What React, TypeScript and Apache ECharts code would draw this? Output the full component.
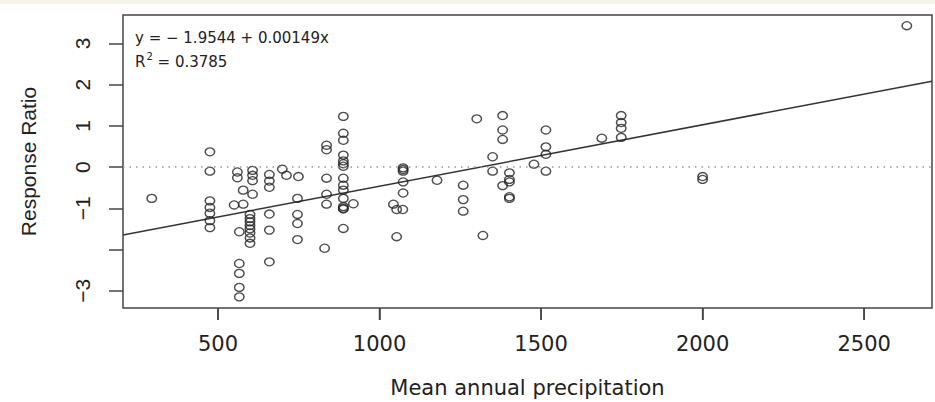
import React, { useEffect, useRef } from "react";
import * as echarts from "echarts";

// Scatter data: mean annual precipitation (x) and response ratio (y)
const precipitation: number[] = [
  295,
  475, 475, 475, 475, 475, 475, 475,
  550,
  560, 560,
  566, 566, 566, 566, 566,
  578, 578,
  607, 607, 607, 607,
  599, 599, 599, 599, 599, 599, 599, 599,
  659, 659, 659, 659, 659, 659,
  699, 712, 749,
  746, 746, 746, 746,
  830,
  836, 836, 836, 836, 836,
  888, 888, 888, 888, 888, 888, 888, 888, 888, 888, 888, 888, 888, 888, 888,
  919,
  1043,
  1053, 1053,
  1072,
  1073, 1073, 1073, 1073, 1073,
  1178,
  1259, 1259, 1259,
  1301,
  1320,
  1350, 1350,
  1381, 1381, 1381, 1381,
  1402, 1402, 1402, 1402, 1402,
  1478,
  1515, 1515, 1515, 1515,
  1688,
  1748, 1748, 1748, 1748,
  2000, 2000,
  2632,
];

const responseRatio: number[] = [
  -0.76,
  0.37, -0.1, -0.82, -0.98, -1.12, -1.3, -1.47,
  -0.92,
  -0.12, -0.26,
  -1.57, -2.34, -2.58, -2.92, -3.15,
  -0.56, -0.9,
  -0.08, -0.2, -0.33, -0.66,
  -1.15, -1.25, -1.33, -1.42, -1.5, -1.6, -1.72, -1.85,
  -0.18, -0.34, -0.49, -1.14, -1.53, -2.3,
  -0.05, -0.2, -0.23,
  -0.76, -1.15, -1.37, -1.76,
  -1.97,
  0.53, 0.42, -0.27, -0.66, -0.9,
  1.23, 0.82, 0.65, 0.29, 0.15, 0.08, 0.02, -0.27, -0.44, -0.56, -0.76, -0.96, -1.0, -1.02, -1.49,
  -0.89,
  -0.9,
  -1.03, -1.69,
  -1.03,
  -0.02, -0.06, -0.1, -0.36, -0.63,
  -0.32,
  -0.44, -0.79, -1.07,
  1.17,
  -1.66,
  0.25, -0.1,
  1.25, 0.9, 0.67, -0.45,
  -0.14, -0.3, -0.36, -0.72, -0.76,
  0.07,
  0.9, 0.49, 0.31, -0.1,
  0.7,
  1.25, 1.08, 0.94, 0.72,
  -0.23, -0.3,
  3.43,
];

// Fitted regression: y = intercept + slope * x
const intercept = -1.9544;
const slope = 0.00149;
const rSquared = 0.3785;

const xTicks: number[] = [500, 1000, 1500, 2000, 2500];
const yTicks: number[] = [-3, -2, -1, 0, 1, 2, 3];
const yTickLabels: number[] = [-3, -1, 0, 1, 2, 3];

const xRange: number[] = [206, 2710];
const yRange: number[] = [-3.42, 3.69];

const fmtNum = (v: number) => (v < 0 ? "\u2212" + Math.abs(v) : String(v));

export default function App() {
  const ref = useRef<HTMLDivElement>(null);

  useEffect(() => {
    if (!ref.current) return;
    const chart = echarts.init(ref.current, undefined, { renderer: "svg" });
    const points = precipitation.map((x, i) => [x, responseRatio[i]]);
    const fitLine = xRange.map((x) => [x, intercept + slope * x]);

    const baseGraphic: any[] = [
      {
        id: "topband",
        type: "rect",
        left: 0,
        top: 0,
        shape: { width: 935, height: 4 },
        style: { fill: "#f4f4e8" },
        silent: true,
      },
      {
        id: "eq",
        type: "text",
        left: 135,
        top: 30,
        style: {
          text: "y = \u2212 1.9544 + 0.00149x",
          font: "15px 'DejaVu Sans'",
          fill: "#222",
        },
      },
      {
        id: "r2",
        type: "text",
        left: 135,
        top: 51,
        style: {
          text: "{b|R}{s|2}{b| = " + rSquared + "}",
          fill: "#222",
          rich: {
            b: { font: "15px 'DejaVu Sans'", fill: "#222", verticalAlign: "bottom" },
            s: { font: "10px 'DejaVu Sans'", fill: "#222", verticalAlign: "top", padding: [0, 0, 8, 1] },
          },
        },
      },
    ];

    chart.setOption({
      animation: false,
      backgroundColor: "#ffffff",
      grid: {
        left: 123,
        right: 3,
        top: 15,
        bottom: 94,
        containLabel: false,
        outerBoundsMode: "none",
        show: true,
        borderColor: "#444",
        borderWidth: 1.5,
      },
      xAxis: {
        type: "value",
        min: xRange[0],
        max: xRange[1],
        name: "Mean annual precipitation",
        nameLocation: "middle",
        nameGap: 69,
        nameTextStyle: { fontFamily: "DejaVu Sans", fontSize: 21, color: "#222" },
        axisLine: { show: false, onZero: false },
        splitLine: { show: false },
        axisTick: {
          show: true,
          customValues: xTicks,
          length: 12,
          lineStyle: { color: "#444", width: 1.5 },
        },
        axisLabel: {
          customValues: xTicks,
          formatter: (v: number) => fmtNum(v),
          margin: 25,
          fontFamily: "DejaVu Sans",
          fontSize: 21,
          color: "#222",
        },
      },
      yAxis: {
        type: "value",
        min: yRange[0],
        max: yRange[1],
        name: "Response Ratio",
        nameLocation: "middle",
        nameGap: 84,
        nameTextStyle: { fontFamily: "Liberation Sans", fontSize: 21, color: "#222" },
        axisLine: { show: false, onZero: false },
        splitLine: { show: false },
        axisTick: {
          show: true,
          customValues: yTicks,
          length: 14,
          lineStyle: { color: "#444", width: 1.5 },
        },
        axisLabel: {
          customValues: yTickLabels,
          formatter: (v: number) => fmtNum(v),
          rotate: 90,
          margin: 30,
          fontFamily: "Liberation Sans",
          fontSize: 21,
          color: "#222",
        },
      },
      graphic: baseGraphic,
      series: [
        {
          type: "scatter",
          data: points,
          symbol: "circle",
          symbolSize: [9.5, 8],
          itemStyle: { color: "transparent", borderColor: "#222", borderWidth: 1.4 },
          z: 3,
          markLine: {
            silent: true,
            symbol: ["none", "none"],
            label: { show: false },
            lineStyle: { color: "#999", width: 1.5, type: [1.5, 5] },
            data: [{ yAxis: 0 }],
          },
        },
        {
          type: "line",
          data: fitLine,
          showSymbol: false,
          silent: true,
          lineStyle: { color: "#333", width: 1.5 },
          z: 2,
        },
      ],
    });

    // Bottom-axis tick marks placed through the chart's own x scale
    const yBottom = chart.convertToPixel({ yAxisIndex: 0 }, yRange[0]) as number;
    const tickMarks = xTicks.map((v, i) => {
      const px = chart.convertToPixel({ xAxisIndex: 0 }, v) as number;
      return {
        id: "xtick" + i,
        type: "line",
        silent: true,
        z: 10,
        shape: { x1: px, y1: yBottom, x2: px, y2: yBottom + 12 },
        style: { stroke: "#444", lineWidth: 1.5 },
      };
    });
    chart.setOption({ graphic: [...baseGraphic, ...tickMarks] });

    return () => chart.dispose();
  }, []);

  return (
    <div
      ref={ref}
      style={{ position: "fixed", left: 0, top: 0, width: 935, height: 402 }}
    />
  );
}
